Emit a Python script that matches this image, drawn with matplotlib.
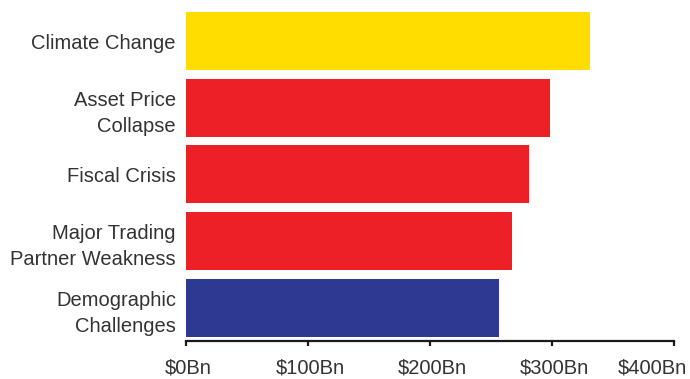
import matplotlib
matplotlib.use("Agg")
import matplotlib.pyplot as plt
from matplotlib.ticker import FuncFormatter
from matplotlib.transforms import ScaledTranslation

# 风险类别及估计损失（十亿美元）
categories = ["Demographic\nChallenges", "Major Trading\nPartner Weakness",
              "Fiscal Crisis", "Asset Price\nCollapse", "Climate Change"]
values = [257, 267, 281, 298, 331]
colors = ["#2E3A92", "#ED1F27", "#ED1F27", "#ED1F27", "#FFDD00"]
x_ticks = [0, 100, 200, 300, 400]

plt.rcParams['font.family'] = ['Liberation Sans', 'DejaVu Sans']
text_color = "#333333"

fig = plt.figure(figsize=(6.9, 3.79), dpi=100)
ax = fig.add_axes([0.269, 0.100, 0.708, 0.868])

ax.barh(range(len(categories)), values, height=0.87, color=colors)

ax.set_xlim(0, 400)
ax.set_ylim(-0.504, 4.435)
ax.set_xticks(x_ticks)
ax.xaxis.set_major_formatter(FuncFormatter(lambda v, p: f"${v:.0f}Bn"))
ax.set_yticks(range(len(categories)))
ax.set_yticklabels(categories, linespacing=1.5)

for s in ["top", "right", "left"]:
    ax.spines[s].set_visible(False)
ax.spines["bottom"].set_linewidth(1.6)
ax.spines["bottom"].set_color("#1A1A1A")

ax.tick_params(axis="y", length=0, pad=7, labelsize=14.5, labelcolor=text_color)
ax.tick_params(axis="x", length=3.8, width=1.6, color="#1A1A1A", pad=9,
               labelsize=14.5, labelcolor=text_color)

# 最右侧刻度标签左移，避免超出画布
xlabels = ax.get_xticklabels()
for i, lab in enumerate(xlabels):
    dx = -15.5 if i == len(xlabels) - 1 else 1.5
    lab.set_transform(lab.get_transform() + ScaledTranslation(dx / 72, 0, fig.dpi_scale_trans))

plt.savefig("out.png", dpi=100)
